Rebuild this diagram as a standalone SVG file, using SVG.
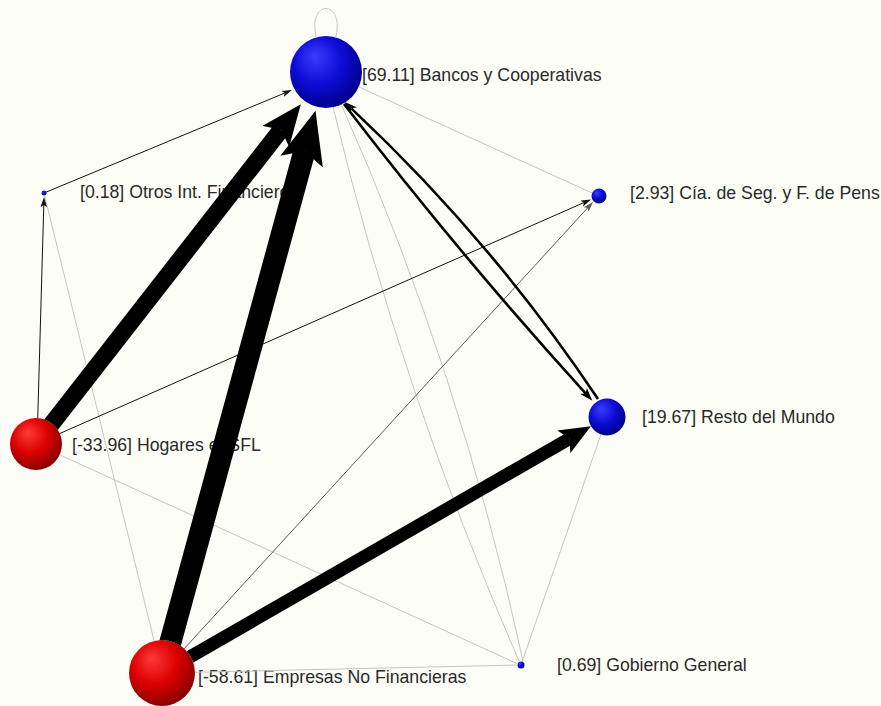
<svg xmlns="http://www.w3.org/2000/svg" width="881" height="706" viewBox="0 0 881 706">
<style>
.lbl{font-family:"Liberation Sans",Arial,sans-serif;font-size:17.7px;fill:#2a2a2a}
.thick{fill:none;stroke:#000;marker-end:url(#arrT)}
.thin{fill:none;stroke:#111;stroke-width:1;marker-end:url(#arrS)}
.dim{fill:none;stroke:#5a5a5a;stroke-width:1;marker-end:url(#arrD)}
.mid{fill:none;stroke:#000;stroke-width:2.6;marker-end:url(#arrM)}
.light{fill:none;stroke:#c4c4c4;stroke-width:1}
</style>
<defs>
<radialGradient id="gB" cx="0.42" cy="0.38" r="0.62" fx="0.34" fy="0.28">
<stop offset="0" stop-color="#3c3cff"/>
<stop offset="0.55" stop-color="#0c0cd6"/>
<stop offset="1" stop-color="#00008c"/>
</radialGradient>
<radialGradient id="gR" cx="0.42" cy="0.38" r="0.62" fx="0.34" fy="0.28">
<stop offset="0" stop-color="#ff3a3a"/>
<stop offset="0.55" stop-color="#dc0000"/>
<stop offset="1" stop-color="#8c0000"/>
</radialGradient>
<marker id="arrT" viewBox="0 -1 2.4 2" refX="0.5" refY="0" markerWidth="2.4" markerHeight="2" markerUnits="strokeWidth" orient="auto">
<path d="M0,-1 L2.4,0 L0,1 L0.5,0 z" fill="#000"/>
</marker>
<marker id="arrS" viewBox="0 -4 12 8" refX="2" refY="0" markerWidth="12" markerHeight="8" markerUnits="userSpaceOnUse" orient="auto">
<path d="M0,-3.2 L10,0 L0,3.2 L2,0 z" fill="#111"/>
</marker>
<marker id="arrD" viewBox="0 -4 12 8" refX="2" refY="0" markerWidth="12" markerHeight="8" markerUnits="userSpaceOnUse" orient="auto">
<path d="M0,-3.2 L10,0 L0,3.2 L2,0 z" fill="#5a5a5a"/>
</marker>
<marker id="arrM" viewBox="0 -5 14 10" refX="3" refY="0" markerWidth="14" markerHeight="10" markerUnits="userSpaceOnUse" orient="auto">
<path d="M0,-4.5 L13,0 L0,4.5 L3,0 z" fill="#000"/>
</marker>
<mask id="nodeMask" maskUnits="userSpaceOnUse" x="0" y="0" width="881" height="706">
<rect x="0" y="0" width="881" height="706" fill="#fff"/>
<circle cx="326" cy="72" r="36" fill="#000"/>
<circle cx="44" cy="193" r="2.5" fill="#000"/>
<circle cx="599" cy="196" r="7.5" fill="#000"/>
<circle cx="607" cy="417" r="18.5" fill="#000"/>
<circle cx="36" cy="444" r="26" fill="#000"/>
<circle cx="162" cy="673" r="33" fill="#000"/>
<circle cx="521" cy="665" r="3.5" fill="#000"/>
</mask>
</defs>
<rect x="0" y="0" width="881" height="706" fill="#fdfdf7"/>

<g id="node-bancos">
<circle cx="326" cy="72" r="36" fill="url(#gB)"/>
<text class="lbl" x="362" y="81">[69.11] Bancos y Cooperativas</text>
</g>
<g id="node-otros">
<circle cx="44" cy="193" r="2.5" fill="url(#gB)"/>
<text class="lbl" x="80" y="198">[0.18] Otros Int. Financieros</text>
</g>
<g id="node-cia">
<circle cx="599" cy="196" r="7.5" fill="url(#gB)"/>
<text class="lbl" x="630" y="199">[2.93] Cía. de Seg. y F. de Pens</text>
</g>
<g id="node-resto">
<circle cx="607" cy="417" r="18.5" fill="url(#gB)"/>
<text class="lbl" x="642" y="423">[19.67] Resto del Mundo</text>
</g>
<g id="node-hogares">
<circle cx="36" cy="444" r="26" fill="url(#gR)"/>
<text class="lbl" x="72" y="451">[-33.96] Hogares e ISFL</text>
</g>
<g id="node-empresas">
<circle cx="162" cy="673" r="33" fill="url(#gR)"/>
<text class="lbl" x="198" y="683">[-58.61] Empresas No Financieras</text>
</g>
<g id="node-gobierno">
<circle cx="521" cy="665" r="3.5" fill="url(#gB)"/>
<text class="lbl" x="557" y="671">[0.69] Gobierno General</text>
</g>

<g id="connectors" mask="url(#nodeMask)">
<path class="light" d="M317,40 C305,-2 347,-2 335,40" stroke="#8a8a8a"/>
<line class="light" x1="326" y1="72" x2="592" y2="193"/>
<path class="light" d="M333,107 Q401.4,392.3 519,661"/>
<path class="light" d="M342,106 Q461,374.2 523,661"/>
<line class="light" x1="44" y1="193" x2="162" y2="673"/>
<line class="light" x1="36" y1="444" x2="518" y2="664"/>
<line class="light" x1="162" y1="673" x2="518" y2="665"/>
<line class="light" x1="607" y1="417" x2="522" y2="662"/>
<line class="thin" x1="44" y1="193" x2="284.6" y2="93.1"/>
<line class="thin" x1="37" y1="444" x2="43.8" y2="205"/>
<line class="thin" x1="36" y1="444" x2="583.7" y2="202.7"/>
<line class="dim" x1="162" y1="673" x2="587.6" y2="207.9"/>
<path class="mid" d="M344,104 Q458.7,253.8 585.6,393.3"/>
<path class="mid" d="M598,399 Q491.5,239.6 351.5,108.6"/>
<line class="thick" x1="162" y1="673" x2="569.5" y2="438.6" stroke-width="13"/>
<line class="thick" x1="36" y1="444" x2="281" y2="129.7" stroke-width="17"/>
<line class="thick" x1="162" y1="673" x2="304.5" y2="151" stroke-width="22"/>
</g>
</svg>
